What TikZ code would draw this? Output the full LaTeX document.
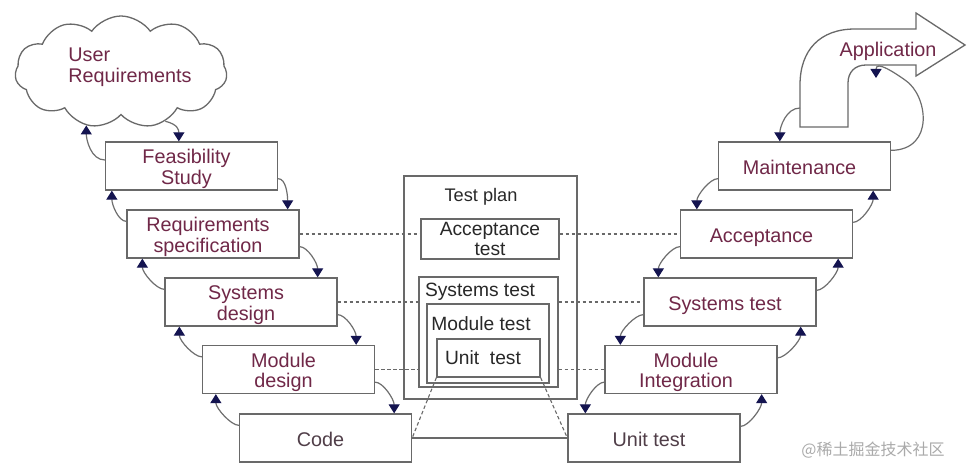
\documentclass[tikz,border=0pt]{standalone}
\usepackage{fontspec}
\setmainfont{Liberation Sans}
\newfontfamily\cjkfont{Noto Sans CJK SC}
\usetikzlibrary{arrows.meta,shapes.symbols,calc}
\definecolor{linegray}{RGB}{105,105,105}
\definecolor{curvegray}{RGB}{110,110,110}
\definecolor{navyblue}{RGB}{20,20,80}
\definecolor{labelred}{RGB}{112,40,72}
\definecolor{darktext}{RGB}{40,40,40}
\definecolor{codetext}{RGB}{80,62,72}
\definecolor{wmgray}{RGB}{170,170,170}
\newcommand\vmfont{\fontsize{19.8}{20.5}\selectfont}
\newcommand\tpfont{\fontsize{19.2}{20}\selectfont}
\newcommand\vlab[1]{\raisebox{-4pt}[\height][\depth]{\begin{tabular}{@{}c@{}}#1\end{tabular}}\kern10pt}
\tikzset{
  vbox/.style={draw=linegray, line width=1.3pt, fill=white, minimum width=172pt,
    minimum height=48pt, text=labelred, font=\vmfont, inner sep=2pt},
  tbox/.style={draw=linegray, line width=1.3pt, fill=white, inner sep=0pt,
    align=center, text=darktext, font=\tpfont},
  ttext/.style={text=darktext, font=\tpfont, align=center, inner sep=1pt},
  conn/.style={draw=curvegray, line width=1.2pt,
    -{Triangle[width=11pt,length=9pt,color=navyblue]}},
  trace/.style={draw=linegray, line width=1.1pt, dash pattern=on 3.5pt off 2.5pt},
  solidlink/.style={draw=linegray, line width=1.2pt}
}
\begin{document}
\begin{tikzpicture}[x=1pt,y=-1pt]
\useasboundingbox[fill=white] (0,0) rectangle (971,476);

% Test plan block
\node[tbox, minimum width=173pt, minimum height=223pt] (tp) at (490.5,287.5) {};
\node[ttext, font=\fontsize{18.2}{20}\selectfont] (tpl) at (481,197) {Test plan};
\node[tbox, minimum width=138pt, minimum height=40pt] (atb) at (490,239) {Acceptance\\test};
\node[tbox, minimum width=139pt, minimum height=110pt] (stb) at (488.5,332) {};
\node[ttext] (stl) at (480,292) {Systems test};
\node[tbox, minimum width=122pt, minimum height=79pt] (mtb) at (488,343.5) {};
\node[ttext] (mtl) at (481,324) {Module test};
\node[tbox, minimum width=103pt, minimum height=38pt] (utb) at (488.5,358) {};
\node[ttext] (utl) at (483,358) {Unit\ \ test};

% Left branch
\node[vbox] (fs) at (191.5,166) {\vlab{Feasibility\\Study}};
\node[vbox] (rs) at (213,234) {\vlab{Requirements\\specification}};
\node[vbox] (sd) at (251,302) {\vlab{Systems\\design}};
\node[vbox] (md) at (288.5,369.5) {\vlab{Module\\design}};
\node[vbox,text=codetext] (cd) at (325.5,438) {\vlab{Code}};

% Right branch
\node[vbox] (mt) at (804.5,166) {\vlab{Maintenance}};
\node[vbox] (ac) at (766.5,234) {\vlab{Acceptance}};
\node[vbox] (st) at (730,302) {\vlab{Systems test}};
\node[vbox] (mi) at (691,369.5) {\vlab{Module\\Integration}};
\node[vbox,text=codetext] (ut) at (654,438) {\vlab{Unit test}};

% Cloud
\node[cloud, draw=linegray, line width=1.3pt, fill=white, cloud puffs=11,
  cloud puff arc=110, aspect=1.9, minimum width=212pt, minimum height=112pt,
  inner sep=0pt] (ur) at (121,72) {};
\node[text=labelred, font=\vmfont, align=left, inner sep=1pt] (url) at (130,67) {User\\Requirements};

% Dashed traces
\draw[trace] (rs.east) -- (rs.east -| atb.west);
\draw[trace] (ac.west -| atb.east) -- (ac.west);
\draw[trace] (sd.east) -- (sd.east -| stb.west);
\draw[trace] (st.west -| stb.east) -- (st.west);
\draw[trace] (md.east) -- (md.east -| stb.west);
\draw[trace] (mi.west -| stb.east) -- (mi.west);
\draw[trace] (utb.south west) -- (cd.east);
\draw[trace] (utb.south east) -- (ut.west);
\draw[solidlink] (cd.east) -- (ut.west);

% Cloud connectors
\draw[conn] (ur.312) .. controls +(12,3) and +(0,-12) .. ([xshift=74pt]fs.north west);
\draw[conn] ([yshift=6pt]fs.west) .. controls +(-14,0) and +(0,14) .. (ur.237);

% Left down arrows
\draw[conn] ([yshift=12pt]fs.south east) .. controls +(8,0) and +(0,-14) .. ([xshift=-12pt]rs.north east);
\draw[conn] ([yshift=12pt]rs.south east) .. controls +(8,0) and +(0,-14) .. ([xshift=-20pt]sd.north east);
\draw[conn] ([yshift=12pt]sd.south east) .. controls +(8,0) and +(0,-14) .. ([xshift=-19pt]md.north east);
\draw[conn] ([yshift=12pt]md.south east) .. controls +(8,0) and +(0,-14) .. ([xshift=-18pt]cd.north east);
% Left up arrows
\draw[conn] ([yshift=-12pt]rs.north west) .. controls +(-8,0) and +(0,14) .. ([xshift=7pt]fs.south west);
\draw[conn] ([yshift=-12pt]sd.north west) .. controls +(-8,0) and +(0,14) .. ([xshift=16pt]rs.south west);
\draw[conn] ([yshift=-12pt]md.north west) .. controls +(-8,0) and +(0,14) .. ([xshift=15pt]sd.south west);
\draw[conn] ([yshift=-12pt]cd.north west) .. controls +(-8,0) and +(0,14) .. ([xshift=14pt]md.south west);

% Right up arrows
\draw[conn] ([yshift=-13pt]ut.north east) .. controls +(8,0) and +(0,14) .. ([xshift=-16pt]mi.south east);
\draw[conn] ([yshift=-13pt]mi.north east) .. controls +(8,0) and +(0,14) .. ([xshift=-16pt]st.south east);
\draw[conn] ([yshift=-13pt]st.north east) .. controls +(8,0) and +(0,14) .. ([xshift=-15pt]ac.south east);
\draw[conn] ([yshift=-13pt]ac.north east) .. controls +(8,0) and +(0,14) .. ([xshift=-18pt]mt.south east);
% Right down arrows
\draw[conn] ([yshift=12pt]mt.south west) .. controls +(-8,0) and +(0,-14) .. ([xshift=17pt]ac.north west);
\draw[conn] ([yshift=12pt]ac.south west) .. controls +(-8,0) and +(0,-14) .. ([xshift=15pt]st.north west);
\draw[conn] ([yshift=12pt]st.south west) .. controls +(-8,0) and +(0,-14) .. ([xshift=16pt]mi.north west);
\draw[conn] ([yshift=12pt]mi.south west) .. controls +(-8,0) and +(0,-14) .. ([xshift=18pt]ut.north west);

% Maintenance -> Application (partly hidden under the arrow)
\coordinate (appin) at (876,78);
\draw[conn] ([yshift=-9pt]mt.north east) .. controls (935,150) and (928,95) .. (905,80)
  .. controls (895,73) and (876,60) .. (appin);

% Application arrow
\draw[draw=linegray, line width=1.3pt, fill=white] (800,127) -- (800,85)
  .. controls (800,50) and (820,29) .. (855,29) -- (916,29) -- (916,13) -- (965,45)
  -- (916,76) -- (916,65) -- (866,65) .. controls (855,65) and (848,72) .. (848,83)
  -- (848,127) -- cycle;
\node[text=labelred, font=\vmfont, inner sep=1pt] (appl) at (888,51) {Application};
\coordinate (appw) at (800,108);
\draw[conn] (appw) .. controls +(-14,0) and +(0,-14) .. ([xshift=62pt]mt.north west);

% Watermark
\node[text=wmgray, font={\cjkfont\fontsize{16}{18}\selectfont}, inner sep=0pt] (wm) at (873,450) {@稀土掘金技术社区};
\end{tikzpicture}
\end{document}
